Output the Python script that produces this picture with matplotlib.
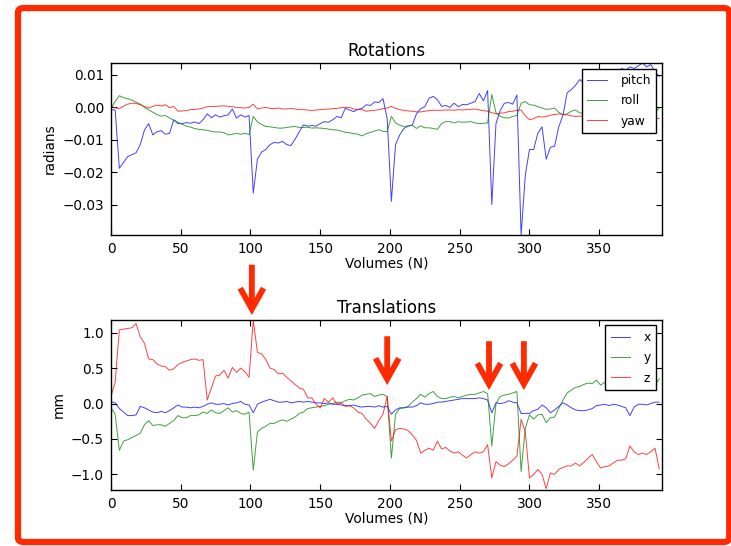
import numpy as np
import matplotlib
matplotlib.use("Agg")
import matplotlib.pyplot as plt
from matplotlib.ticker import MultipleLocator
from matplotlib.patches import FancyBboxPatch

# volume index, sampled every 3 volumes
volumes = np.arange(0, 396, 3)

# rotations in milliradians (converted to radians below)
pitch_mrad = [
    -0.7, -0.8, -18.8, -17.0, -15.2, -14.6, -14.0, -11.5, -7.0, -5.0, -8.5, -7.5,
    -7.2, -8.3, -8.0, -3.8, -5.0, -5.0, -4.7, -4.9, -4.5, -5.0, -3.8, -2.0,
    -3.2, -2.3, -3.0, -2.6, -2.3, -0.5, -3.3, -2.3, -3.0, -2.5, -26.5, -16.0,
    -13.8, -13.0, -11.5, -10.8, -11.0, -10.5, -11.5, -11.8, -9.8, -7.5, -5.4, -5.8,
    -5.6, -5.8, -5.0, -4.4, -4.6, -3.8, -2.8, -3.2, -0.3, -0.8, -1.3, -0.6,
    -0.3, 0.8, 0.6, 1.7, 1.5, 2.7, -3.5, -29.0, -11.5, -8.5, -6.5, -5.8,
    -5.5, -2.0, -0.4, 0.2, 2.8, 3.4, 2.4, 0.3, 0.6, 0.0, 1.3, 0.2,
    0.9, 0.8, 1.3, 1.8, 4.3, 2.0, 5.2, -30.0, -5.0, -1.0, 1.3, 1.5,
    1.0, 3.8, -39.5, -21.0, -13.0, -13.0, -8.0, -6.0, -16.0, -12.3, -12.0, -6.0,
    -2.5, 4.5, 5.5, 6.8, 8.6, 7.5, 9.0, 10.0, 9.5, 10.5, 10.0, 11.0,
    11.5, 11.0, 12.0, 11.5, 12.5, 12.0, 12.8, 13.7, 12.5, 13.2, 11.0, 9.5,
]
roll_mrad = [
    -0.2, 1.8, 3.6, 3.0, 2.7, 2.2, 1.6, 1.0, 0.0, -0.8, -1.5, -2.2,
    -2.7, -2.5, -3.3, -4.0, -4.6, -5.2, -5.8, -6.1, -6.5, -6.8, -6.9, -7.1,
    -7.4, -7.6, -7.6, -7.8, -8.5, -8.3, -8.0, -8.3, -8.0, -8.4, -2.8, -4.5,
    -5.3, -5.9, -6.0, -6.2, -6.4, -6.4, -6.2, -6.0, -5.9, -6.2, -6.2, -6.1,
    -6.4, -6.3, -6.4, -6.5, -6.7, -6.9, -7.0, -7.3, -7.7, -7.8, -8.1, -8.3,
    -8.8, -8.1, -7.7, -7.3, -6.9, -7.4, -7.5, -2.8, -4.8, -5.5, -5.9, -5.7,
    -5.5, -6.5, -5.7, -6.3, -6.3, -6.5, -6.8, -5.0, -4.4, -4.4, -4.8, -4.4,
    -4.6, -4.5, -4.4, -4.8, -5.0, -4.9, -4.8, 4.0, -1.7, -2.7, -3.2, -3.3,
    -2.8, -2.5, 1.3, 1.8, 0.8, 0.7, 0.2, -0.2, -0.6, -0.5, -0.2, -1.5,
    -2.3, -2.0, -1.2, -0.8, -1.7, -1.8, -1.6, -2.0, -1.8, -2.0, -1.7, -1.9,
    -1.8, -2.0, -1.7, -1.9, -1.6, -1.8, -1.5, -1.7, -1.6, -1.8, -1.7, -0.2,
]
yaw_mrad = [
    0.3, -0.1, -0.4, 0.4, 1.0, 1.3, 1.2, 0.8, 0.3, -0.2, 0.3, 0.7,
    0.4, 0.8, -0.1, 0.3, -1.2, -1.1, -1.0, -0.7, -0.6, -0.5, -0.2, 0.2,
    0.3, 0.3, 0.4, 0.5, 0.3, 0.2, 0.0, -0.1, -0.2, 0.0, 1.0, -0.5,
    -0.2, 0.0, -0.3, -0.4, -0.2, -0.5, -0.5, -0.3, -0.5, -0.7, -0.7, -0.8,
    -1.0, -0.8, -0.7, -0.6, -0.5, -0.4, -0.3, -0.1, 0.0, 0.0, -0.5, -0.7,
    -0.7, -1.2, -1.0, -0.9, -0.7, -0.4, -0.2, 0.3, -0.3, -0.7, -0.9, -1.1,
    -1.2, -1.4, -1.4, -1.2, -1.0, -0.9, -0.9, -0.9, -0.8, -0.8, -0.9, -0.7,
    -0.8, -0.7, -0.6, -0.5, -0.8, -1.0, -1.2, -1.6, -2.0, -1.8, -1.7, -1.3,
    -1.2, -0.9, -0.8, -2.6, -3.8, -3.5, -2.8, -3.0, -2.8, -2.4, -2.2, -2.0,
    -2.2, -2.3, -2.6, -2.8, -2.7, -2.8, -2.9, -2.7, -2.9, -3.0, -2.8, -3.0,
    -3.1, -2.9, -3.0, -3.2, -3.0, -3.1, -3.3, -3.1, -3.2, -3.4, -3.5, -3.4,
]

# translations in mm
trans_x = [
    0.03, 0.01, -0.07, -0.12, -0.17, -0.17, -0.16, -0.04, -0.06, -0.09, -0.12, -0.13,
    -0.11, -0.13, -0.10, -0.06, -0.02, -0.05, -0.05, -0.06, -0.05, -0.06, -0.04, -0.01,
    0.01, -0.01, -0.01, 0.00, -0.02, 0.00, 0.01, 0.03, -0.01, -0.02, -0.13, -0.01,
    0.02, 0.04, 0.06, 0.04, 0.02, 0.02, 0.03, 0.01, 0.02, 0.03, 0.02, 0.03,
    0.02, 0.01, 0.01, 0.00, 0.01, -0.01, -0.01, -0.02, -0.03, -0.03, -0.02, -0.04,
    -0.05, -0.04, -0.04, -0.05, -0.03, -0.05, -0.04, -0.15, -0.09, -0.06, -0.06, -0.05,
    -0.05, -0.03, 0.01, -0.01, -0.01, 0.00, 0.02, 0.02, 0.03, 0.04, 0.05, 0.06,
    0.07, 0.07, 0.07, 0.07, 0.08, 0.07, 0.05, -0.13, 0.01, 0.00, 0.01, 0.04,
    0.02, 0.01, -0.14, -0.14, -0.14, -0.10, -0.08, -0.02, -0.06, -0.13, -0.09, -0.04,
    0.01, -0.02, -0.06, -0.09, -0.10, -0.10, -0.09, -0.07, -0.03, -0.02, -0.01, -0.03,
    -0.01, -0.02, -0.04, -0.06, -0.17, -0.05, -0.01, -0.01, -0.02, 0.00, 0.02, 0.02,
]
trans_y = [
    -0.06, -0.15, -0.66, -0.53, -0.51, -0.48, -0.45, -0.42, -0.30, -0.24, -0.31, -0.30,
    -0.30, -0.32, -0.28, -0.24, -0.17, -0.20, -0.20, -0.17, -0.17, -0.16, -0.12, -0.14,
    -0.09, -0.13, -0.14, -0.10, -0.06, -0.12, -0.10, -0.14, -0.15, -0.12, -0.94, -0.40,
    -0.35, -0.32, -0.28, -0.28, -0.25, -0.23, -0.25, -0.22, -0.19, -0.14, -0.12, -0.07,
    -0.06, -0.05, -0.04, -0.03, -0.01, 0.00, 0.02, 0.01, 0.04, 0.06, 0.05, 0.08,
    0.12, 0.13, 0.14, 0.10, 0.12, 0.13, 0.10, -0.77, -0.15, -0.07, -0.06, -0.04,
    0.02, 0.07, 0.13, 0.09, 0.14, 0.17, 0.10, 0.07, 0.07, 0.09, 0.10, 0.08,
    0.10, 0.12, 0.13, 0.13, 0.15, 0.17, 0.14, -0.60, 0.00, 0.10, 0.12, 0.13,
    0.15, 0.17, -0.96, -0.35, -0.16, -0.22, -0.16, -0.15, -0.27, -0.20, -0.19, -0.07,
    0.05, 0.15, 0.19, 0.23, 0.24, 0.27, 0.29, 0.28, 0.33, 0.26, 0.30, 0.32,
    0.34, 0.31, 0.33, 0.35, 0.30, 0.33, 0.36, 0.34, 0.35, 0.33, 0.26, 0.35,
]
trans_z = [
    0.10, 0.30, 1.04, 1.05, 1.06, 1.07, 1.13, 0.94, 0.85, 0.63, 0.62, 0.56,
    0.53, 0.52, 0.47, 0.49, 0.55, 0.58, 0.60, 0.62, 0.63, 0.61, 0.62, 0.05,
    0.22, 0.39, 0.40, 0.47, 0.36, 0.51, 0.44, 0.50, 0.45, 0.37, 1.18, 0.72,
    0.70, 0.62, 0.50, 0.48, 0.42, 0.43, 0.37, 0.32, 0.27, 0.22, 0.20, 0.08,
    0.08, -0.01, -0.06, 0.07, 0.02, 0.08, -0.01, 0.01, -0.04, -0.03, -0.06, -0.12,
    -0.14, -0.22, -0.28, -0.35, -0.24, -0.15, 0.10, -0.53, -0.37, -0.35, -0.36, -0.38,
    -0.44, -0.52, -0.70, -0.66, -0.63, -0.66, -0.53, -0.64, -0.62, -0.67, -0.70, -0.68,
    -0.73, -0.77, -0.72, -0.68, -0.70, -0.68, -0.58, -1.05, -0.82, -0.87, -0.89, -0.85,
    -0.80, -0.74, -0.22, -0.40, -1.05, -1.00, -0.93, -1.00, -1.20, -0.98, -1.00, -0.93,
    -0.90, -0.88, -0.88, -0.84, -0.88, -0.83, -0.77, -0.72, -0.82, -0.91, -0.89, -0.88,
    -0.84, -0.80, -0.80, -0.78, -0.60, -0.68, -0.72, -0.70, -0.72, -0.68, -0.63, -0.92,
]

# volumes that the red arrows point at
spike_volumes = [101, 198, 271, 296]

RED = "#ff2a00"
plt.rcParams["font.family"] = "DejaVu Sans"
fig = plt.figure(figsize=(7.31, 5.46), dpi=100)
ax1 = fig.add_axes([0.1518, 0.5696, 0.7538, 0.315])
ax2 = fig.add_axes([0.1518, 0.1026, 0.7538, 0.3114])

lw, al = 0.7, 0.75
ax1.plot(volumes, np.array(pitch_mrad) / 1000, color="b", lw=lw, alpha=al, label="pitch")
ax1.plot(volumes, np.array(roll_mrad) / 1000, color="g", lw=lw, alpha=al, label="roll")
ax1.plot(volumes, np.array(yaw_mrad) / 1000, color="r", lw=lw, alpha=al, label="yaw")
ax1.set_ylim(-0.0394, 0.0137)
ax1.set_title("Rotations", fontsize=12, pad=5)
ax1.set_ylabel("radians", fontsize=9.8)

ax2.plot(volumes, trans_x, color="b", lw=lw, alpha=al, label="x")
ax2.plot(volumes, trans_y, color="g", lw=lw, alpha=al, label="y")
ax2.plot(volumes, trans_z, color="r", lw=lw, alpha=al, label="z")
ax2.set_ylim(-1.22, 1.18)
ax2.set_title("Translations", fontsize=12, pad=5)
ax2.set_ylabel("mm", fontsize=9.8)
ax2.yaxis.set_major_locator(MultipleLocator(0.5))

for ax in (ax1, ax2):
    ax.set_xlim(0, 395)
    ax.xaxis.set_major_locator(MultipleLocator(50))
    ax.set_xlabel("Volumes (N)", fontsize=9.8, labelpad=0.5)
    ax.tick_params(direction="in", top=True, right=True, length=4, width=0.8,
                   labelsize=9.8, pad=5)
    for s in ax.spines.values():
        s.set_linewidth(1.0)
    leg = ax.legend(loc="upper right", fontsize=8.8, handlelength=1.6,
                    handletextpad=1.1, labelspacing=0.6, borderaxespad=0.45,
                    fancybox=False, framealpha=1, borderpad=0.45)
    leg.get_frame().set_edgecolor("black")
    leg.get_frame().set_linewidth(1.0)

# red arrows marking the motion spikes
arrow_tops = [1.96, 0.95, 0.88, 0.88]
arrow_tips = [1.25, 0.26, 0.19, 0.19]
for v, top, tip in zip(spike_volumes, arrow_tops, arrow_tips):
    ax2.annotate("", xy=(v, tip), xytext=(v, top), annotation_clip=False,
                 arrowprops=dict(arrowstyle="->,head_length=0.75,head_width=0.42",
                                 color=RED, lw=4.2, shrinkA=0, shrinkB=0,
                                 mutation_scale=20, joinstyle="miter",
                                 capstyle="butt"))

# red frame round the whole figure
fig.add_artist(FancyBboxPatch((0.0246, 0.0073), 0.973, 0.978,
                              boxstyle="round,pad=0,rounding_size=0.008",
                              transform=fig.transFigure, fill=False,
                              edgecolor=RED, linewidth=4.5))

fig.savefig("out.png", dpi=100)
